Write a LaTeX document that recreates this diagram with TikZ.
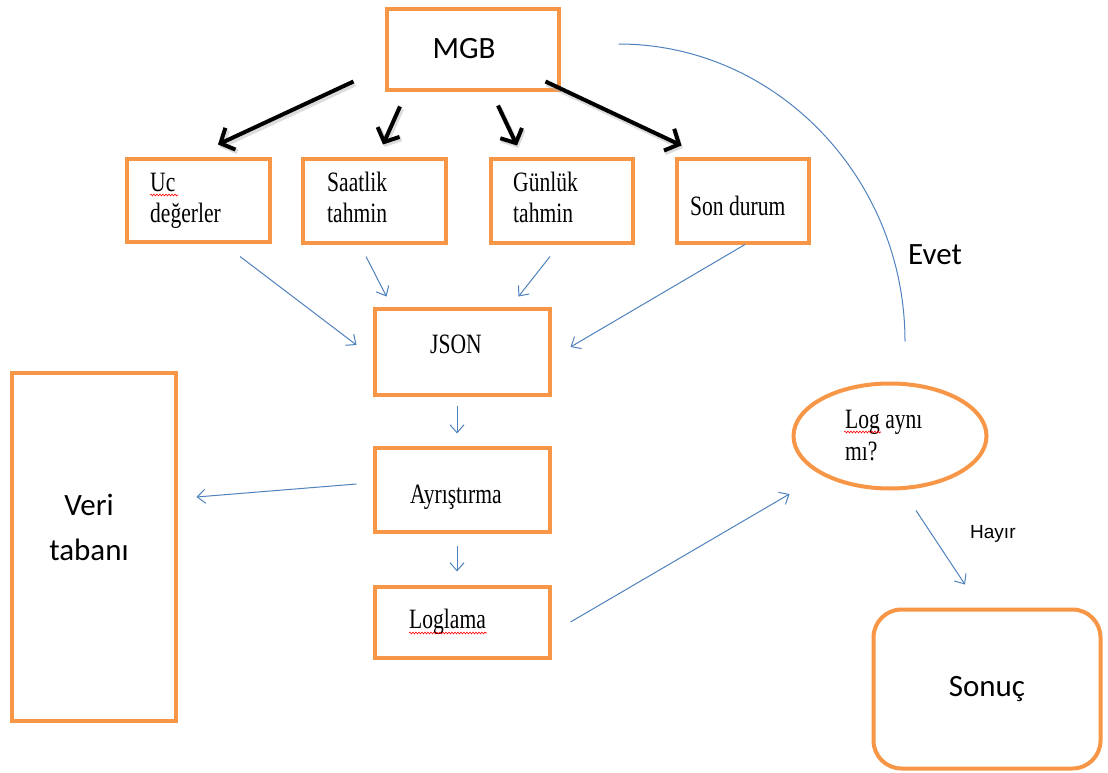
\documentclass[tikz,border=0pt]{standalone}
\usepackage{fontspec}
\newfontfamily\tnrfont{Liberation Serif}
\newfontfamily\calfont{Carlito}
\newfontfamily\arialfont{Liberation Sans}
\usetikzlibrary{arrows.meta,shapes.geometric,decorations.pathmorphing,calc}
\definecolor{boxorange}{HTML}{F79646}
\definecolor{linkblue}{HTML}{4F81BD}
\newcommand\sq[1]{\scalebox{0.77}[1]{#1}}
\begin{document}
\begin{tikzpicture}[x=1pt,y=-1pt,
  ob/.style={draw=boxorange,line width=4pt,inner sep=0pt,outer sep=0pt},
  tnr/.style={font=\tnrfont\fontsize{28}{31}\selectfont,inner sep=0pt,align=left,anchor=base west},
  big/.style={font=\calfont\fontsize{31}{45}\selectfont,inner sep=0pt,align=center},
  thick arrow/.style={line width=4pt,-{Straight Barb[length=11pt,width=24pt]}},
  shadowed/.style={line width=5pt,draw=black!30,opacity=0.45,-{Straight Barb[length=11pt,width=24pt]}},
  link/.style={draw=linkblue,line width=1pt,-{Straight Barb[length=8pt,width=14pt]}},
  wavy/.style={draw=red,line width=0.6pt,decorate,decoration={snake,amplitude=0.9pt,segment length=3pt}}
]
\useasboundingbox (0,0) rectangle (1108,773);

% boxes
\node[ob,minimum width=172pt,minimum height=81pt] (mgb) at (472.5,50) {};
\node[ob,minimum width=143pt,minimum height=83pt] (uc) at (198,200) {};
\node[ob,minimum width=143pt,minimum height=84pt] (saat) at (374,200.5) {};
\node[ob,minimum width=142pt,minimum height=84pt] (gun) at (561.5,200.5) {};
\node[ob,minimum width=132pt,minimum height=84pt] (son) at (742.5,200.5) {};
\node[ob,minimum width=175pt,minimum height=86pt] (json) at (462,351.5) {};
\node[ob,minimum width=175pt,minimum height=84pt] (ayr) at (462,489.5) {};
\node[ob,minimum width=175pt,minimum height=71pt] (log) at (462,622) {};
\node[ob,minimum width=164pt,minimum height=348pt] (veri) at (93.5,546.5) {};
\node[ob,ellipse,minimum width=193pt,minimum height=105pt] (ell) at (890,436) {};
\node[ob,rounded corners=28pt,minimum width=227pt,minimum height=159pt,
      font=\calfont\fontsize{31}{37}\selectfont] (sonuc) at (987,689) {Sonuç};

% texts (multi-line nodes: base = last line)
\node[big,anchor=base] (mgbt) at (464,59) {MGB};
\node[tnr] (uct) at (150,222) {\sq{Uc}\\\sq{değerler}};
\node[tnr] (saatt) at (327,222) {\sq{Saatlik}\\\sq{tahmin}};
\node[tnr] (gunt) at (513,222) {\sq{Günlük}\\\sq{tahmin}};
\node[tnr] (sont) at (690,215) {\sq{Son durum}};
\node[tnr] (jsont) at (430,353) {\sq{JSON}};
\node[tnr] (ayrt) at (410,503) {\sq{Ayrıştırma}};
\node[tnr] (logt) at (409,628) {\sq{Loglama}};
\node[tnr,font=\tnrfont\fontsize{28}{32}\selectfont] (ellt) at (845,460) {\sq{Log aynı}\\\sq{mı?}};
\node[big,anchor=base] (verit) at (89,560) {Veri\\tabanı};
\node[big,anchor=base west] (evet) at (908,264) {Evet};
\node[font=\arialfont\fontsize{19}{22}\selectfont,inner sep=0pt,anchor=base west] (hayir) at (970,538) {Hayır};

% spell-check underlines
\draw[wavy] ([shift={(0,-27)}]uct.base west) -- ++(28,0);
\draw[wavy] ([shift={(0,5)}]logt.base west) -- ++(78,0);
\draw[wavy] ([shift={(-1,-28)}]ellt.base west) -- ++(37,0);

% black arrows: soft shadow (offset right/down) then arrow
\draw[shadowed] ([shift={(-31.5,-6.5)}]mgb.south west) -- ([shift={(21.5,-11.5)}]uc.north);
\draw[thick arrow] ([shift={(-33,-9)}]mgb.south west) -- ([shift={(20,-14)}]uc.north);
\draw[shadowed] ([shift={(-71,18.5)}]mgb.south) -- ([shift={(10.5,-11.5)}]saat.north);
\draw[thick arrow] ([shift={(-72.5,16)}]mgb.south) -- ([shift={(9,-14)}]saat.north);
\draw[shadowed] ([shift={(27,17.5)}]mgb.south) -- ([shift={(-43,-10.5)}]gun.north);
\draw[thick arrow] ([shift={(25.5,15)}]mgb.south) -- ([shift={(-44.5,-13)}]gun.north);
\draw[shadowed] ([shift={(-11.5,-6.5)}]mgb.south east) -- ([shift={(6.5,-10.5)}]son.north west);
\draw[thick arrow] ([shift={(-13,-9)}]mgb.south east) -- ([shift={(5,-13)}]son.north west);

% blue connectors
\draw[link] ([shift={(42,15)}]uc.south) -- ([shift={(-18,-6.5)}]json.west);
\draw[link] ([shift={(-8,14)}]saat.south) -- ([shift={(12,-12)}]json.north west);
\draw[link] ([shift={(-11.5,14)}]gun.south) -- ([shift={(-31,-12)}]json.north east);
\draw[link] ([shift={(2.5,2)}]son.south) -- ([shift={(21,-4.5)}]json.east);
\draw[link] ([shift={(-5,11)}]json.south) -- ([shift={(-5,-14)}]ayr.north);
\draw[link] ([shift={(-5,14)}]ayr.south) -- ([shift={(-5,-15)}]log.north);
\draw[link] ([shift={(-18,-5.5)}]ayr.west) -- ([shift={(21,-49.5)}]veri.east);
\draw[link] ([shift={(21,0)}]log.east) -- ([shift={(-4,58)}]ell.west);
\draw[link] ([shift={(26,22)}]ell.south) -- ([shift={(-22,-25)}]sonuc.north);

% Evet arc
\draw[draw=linkblue,line width=1pt] ([shift={(60,-6)}]mgb.east)
  .. controls ([shift={(217.4,-6)}]mgb.east) and ([shift={(15,-205.5)}]ell.north)
  .. ([shift={(15,-42)}]ell.north);
\end{tikzpicture}
\end{document}
